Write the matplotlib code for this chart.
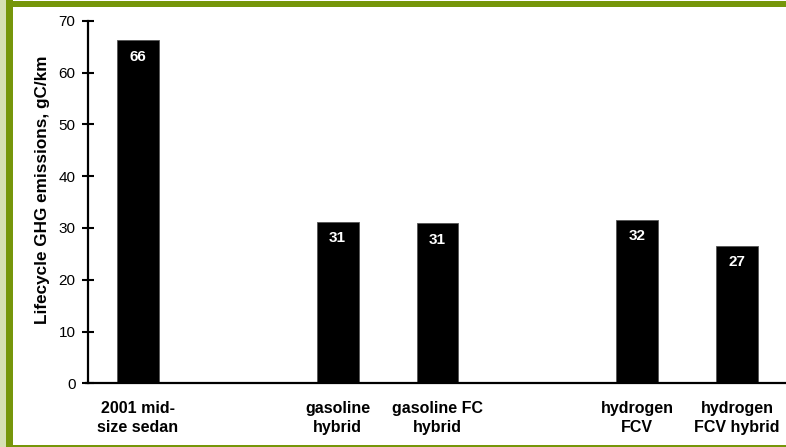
import matplotlib
matplotlib.use("Agg")
import matplotlib.pyplot as plt
from matplotlib.patches import Rectangle

plt.rcParams['font.family'] = ['Liberation Sans', 'DejaVu Sans']

categories = ["2001 mid-\nsize sedan", "gasoline\nhybrid", "gasoline FC\nhybrid",
              "hydrogen\nFCV", "hydrogen\nFCV hybrid"]
positions = [0, 2, 3, 5, 6]
emissions = [66.2, 31.2, 30.9, 31.6, 26.6]
y_ticks = [0, 10, 20, 30, 40, 50, 60, 70]
y_label = "Lifecycle GHG emissions, gC/km"

W, H = 786, 447
fig = plt.figure(figsize=(W / 100, H / 100), dpi=100)
fig.patch.set_facecolor("white")

# frame around the figure
olive = "#76960a"
pale = "#d6e0b4"
fig.patches.append(Rectangle((0, 0), 6 / W, 1, transform=fig.transFigure,
                             facecolor=pale, edgecolor="none", zorder=0))
fig.patches.append(Rectangle((6 / W, 0), 7 / W, 1, transform=fig.transFigure,
                             facecolor=olive, edgecolor="none", zorder=0))
fig.patches.append(Rectangle((6 / W, 1 - 7 / H), 1, 6 / H, transform=fig.transFigure,
                             facecolor=olive, edgecolor="none", zorder=0))
fig.patches.append(Rectangle((6 / W, 0), 1, 2 / H, transform=fig.transFigure,
                             facecolor=olive, edgecolor="none", zorder=0))

ax_left, ax_right = 88 / W, 787 / W
ax_bottom, ax_top = 1 - 383.3 / H, 1 - 20.7 / H
ax = fig.add_axes([ax_left, ax_bottom, ax_right - ax_left, ax_top - ax_bottom])
ax.set_facecolor("none")

bars = ax.bar(positions, emissions, width=0.42, color="black", edgecolor="#555555",
              linewidth=0.6, zorder=2)
for x, v in zip(positions, emissions):
    ax.annotate(f"{v:.0f}", xy=(x, v), xytext=(0, -12), textcoords="offset points",
                ha="center", va="center", color="white", fontsize=11,
                fontweight="bold")

ax.set_xlim(-0.5, 6.5)
ax.set_ylim(0, 70)
ax.set_yticks(y_ticks)
ax.set_yticklabels([str(t) for t in y_ticks], fontsize=11)
ax.tick_params(axis="y", direction="inout", length=8, width=1.5, pad=5)
ax.set_xticks(positions)
ax.set_xticklabels(categories, fontsize=11.5, fontweight="bold", linespacing=1.38)
ax.tick_params(axis="x", length=0, pad=12.5)

for s in ["top", "right"]:
    ax.spines[s].set_visible(False)
for s in ["left", "bottom"]:
    ax.spines[s].set_linewidth(1.6)
ax.spines["bottom"].set_bounds(-0.52, 6.5)

ax.set_ylabel(y_label, fontsize=12.3, fontweight="bold")
ax.yaxis.set_label_coords(-0.055, 0.535)

fig.savefig("out.png", dpi=100)
